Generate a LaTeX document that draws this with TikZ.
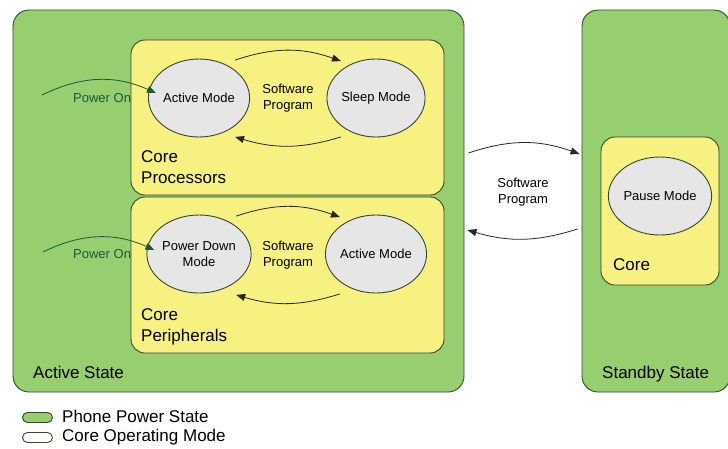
\documentclass[tikz,border=0pt]{standalone}
\usepackage{fontspec}
\setmainfont{Liberation Sans}
\usepackage{xcolor}
\usepackage{tikz}
\usetikzlibrary{arrows.meta,shapes.geometric}

\definecolor{stategreen}{RGB}{150,206,112}
\definecolor{coreyellow}{RGB}{246,241,128}
\definecolor{modegray}{RGB}{230,230,230}
\definecolor{edgegray}{RGB}{55,70,45}
\definecolor{powergreen}{RGB}{25,90,55}

\newcommand\modefont{\fontsize{13}{16}\selectfont}
\newcommand\boxfont{\fontsize{17}{21}\selectfont}

\begin{document}
\begin{tikzpicture}[x=1pt,y=-1pt,
    state/.style={draw=edgegray,fill=stategreen,rounded corners=16pt,line width=0.9pt,inner sep=0pt},
    core/.style={draw=edgegray,fill=coreyellow,rounded corners=14pt,line width=0.9pt,inner sep=0pt},
    mode/.style={ellipse,draw=edgegray,fill=modegray,line width=0.9pt,minimum width=98pt,minimum height=78pt,inner sep=0pt,align=center,font=\modefont},
    lbl/.style={inner sep=0pt,align=center,font=\modefont},
    boxlbl/.style={inner sep=0pt,align=left,font=\boxfont},
    flow/.style={-{Triangle[length=9pt,width=7pt]},line width=0.8pt,black!85},
    onflow/.style={flow,draw=powergreen}]
    \useasboundingbox (0,0) rectangle (728,448);
    \clip (0,0) rectangle (728,448);
    % phone power states
    \node[state,minimum width=451pt,minimum height=382pt] (active) at (238.5,201) {};
    \node[state,minimum width=148pt,minimum height=382pt] (standby) at (656,201) {};
    \node[lbl,text=powergreen,anchor=base west] (pon1lbl) at (73,102) {Power On};
    \node[lbl,text=powergreen,anchor=base west] (pon2lbl) at (73,258) {Power On};
    % cores
    \node[core,minimum width=313pt,minimum height=155pt] (proc) at (287.5,117.5) {};
    \node[core,minimum width=313pt,minimum height=156pt] (peri) at (287.5,275) {};
    \node[core,minimum width=118pt,minimum height=148pt] (score) at (660,211) {};
    % operating modes
    \node[mode] (pactive) at (199,98) {Active Mode};
    \node[mode] (psleep) at (376,98) {Sleep Mode};
    \node[mode] (qdown) at (199,254) {Power Down\\Mode};
    \node[mode] (qactive) at (376,254) {Active Mode};
    \node[mode] (pause) at (660,196) {Pause Mode};
    \node[lbl] (psw) at (288,98) {Software\\Program};
    \node[lbl] (qsw) at (288,255) {Software\\Program};
    \node[lbl] (ssw) at (523,192) {Software\\Program};
    % transitions
    \coordinate (pon1) at (42,95);
    \coordinate (pon2) at (43,252);
    \draw[onflow] (pon1) to[bend left=25] ([xshift=8pt,yshift=5pt]pactive.west);
    \draw[onflow] (pon2) to[bend left=25] ([xshift=8pt,yshift=4pt]qdown.west);
    \draw[flow] ([yshift=10pt]pactive.north east) to[bend left=19] ([yshift=9pt]psleep.north west);
    \draw[flow] ([yshift=-11pt]psleep.south west) to[bend left=17] ([yshift=-11pt]pactive.south east);
    \draw[flow] ([yshift=10pt]qdown.north east) to[bend left=19] ([yshift=9pt]qactive.north west);
    \draw[flow] ([yshift=-12pt]qactive.south west) to[bend left=17] ([yshift=-13pt]qdown.south east);
    \draw[flow] ([xshift=4pt,yshift=48pt]active.east) to[bend left=19] ([xshift=-2pt,yshift=47pt]standby.west);
    \draw[flow] ([xshift=-4pt,yshift=-28pt]standby.west) to[bend left=17] ([xshift=3pt,yshift=-29pt]active.east);
    % box labels
    \node[boxlbl,anchor=north west] (proclbl) at (141,150) {Core\\Processors};
    \node[boxlbl,anchor=north west] (perilbl) at (141,308) {Core\\Peripherals};
    \node[boxlbl,anchor=base west] (activelbl) at (33,378) {Active State};
    \node[boxlbl,anchor=base west] (standbylbl) at (602,378) {Standby State};
    \node[boxlbl,anchor=base west] (scorelbl) at (613,270) {Core};
    % legend
    \node[draw=edgegray,fill=stategreen,line width=0.9pt,rounded corners=5pt,minimum width=30pt,minimum height=10pt,inner sep=0pt] (lgstate) at (37.5,417.5) {};
    \node[draw=edgegray,fill=white,line width=0.9pt,rounded corners=5pt,minimum width=30pt,minimum height=10pt,inner sep=0pt] (lgmode) at (37.5,437.5) {};
    \node[boxlbl,anchor=base west] (lgstatelbl) at (62,422) {Phone Power State};
    \node[boxlbl,anchor=base west] (lgmodelbl) at (62,441) {Core Operating Mode};
\end{tikzpicture}
\end{document}
